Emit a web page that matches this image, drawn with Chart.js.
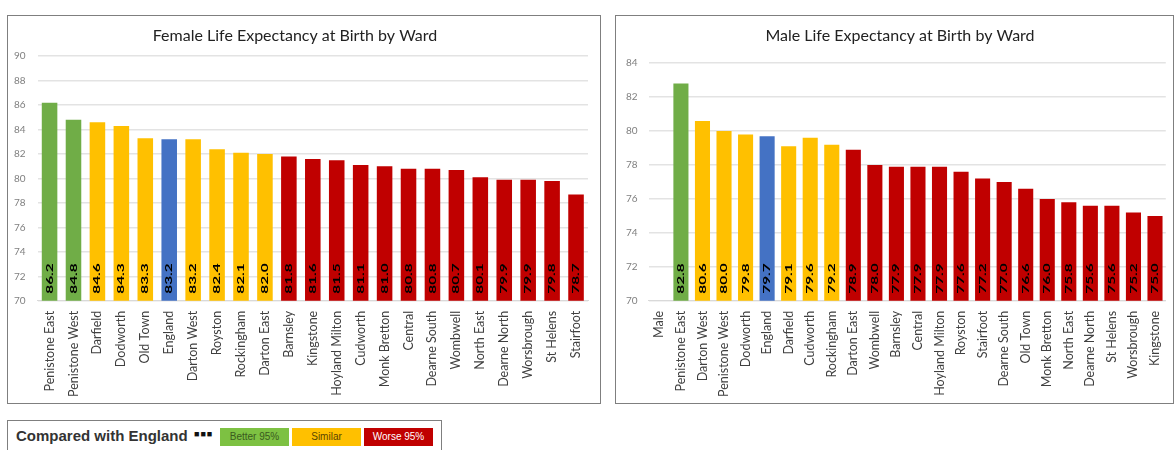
<!DOCTYPE html>
<html>
<head>
<meta charset="utf-8">
<script src="https://cdn.jsdelivr.net/npm/chart.js@4"></script>
<style>
  body { margin: 0; background: #fff; width: 1176px; height: 450px; overflow: hidden; position: relative; font-family: Lato, sans-serif; }
  .box { position: absolute; border: 1.5px solid #7f7f7f; background: #fff; box-sizing: border-box; }
  #femaleBox { left: 7px; top: 15px; width: 594px; height: 389px; }
  #maleBox { left: 615px; top: 15px; width: 559px; height: 389px; }
  #legendBox { left: 7px; top: 420px; width: 435px; height: 40px; }
  .lg-title { position: absolute; left: 8px; top: 6px; font: bold 15px "Liberation Sans", Arial, sans-serif; color: #333; }
  .lg-dots { position: absolute; left: 186px; top: 8px; font: bold 9px "Liberation Sans", Arial, sans-serif; color: #111; letter-spacing: 1px; }
  .lg-key { position: absolute; top: 7px; height: 18px; width: 69px; font: 10px "Liberation Sans", Arial, sans-serif; text-align: center; line-height: 18px; }
</style>
</head>
<body>
<div class="box" id="femaleBox"><canvas id="femaleChart" width="591" height="386"></canvas></div>
<div class="box" id="maleBox"><canvas id="maleChart" width="556" height="386"></canvas></div>
<div class="box" id="legendBox">
  <span class="lg-title">Compared with England</span>
  <span class="lg-dots">&#9632;&#9632;&#9632;</span>
  <span class="lg-key" style="left:212px;background:#7dc142;color:#3a5a1e;">Better 95%</span>
  <span class="lg-key" style="left:284px;background:#ffc000;color:#5a4500;">Similar</span>
  <span class="lg-key" style="left:356px;background:#c00000;color:#fff;">Worse 95%</span>
</div>

<script>
  // Female data
  const femaleWards = ['Penistone East', 'Penistone West', 'Darfield', 'Dodworth', 'Old Town', 'England',
    'Darton West', 'Royston', 'Rockingham', 'Darton East', 'Barnsley', 'Kingstone', 'Hoyland Milton',
    'Cudworth', 'Monk Bretton', 'Central', 'Dearne South', 'Wombwell', 'North East', 'Dearne North',
    'Worsbrough', 'St Helens', 'Stairfoot'];
  const femaleValues = [86.2, 84.8, 84.6, 84.3, 83.3, 83.2, 83.2, 82.4, 82.1, 82.0, 81.8, 81.6, 81.5,
    81.1, 81.0, 80.8, 80.8, 80.7, 80.1, 79.9, 79.9, 79.8, 78.7];
  // B = better, S = similar, E = England, W = worse
  const femaleGroups = ['B', 'B', 'S', 'S', 'S', 'E', 'S', 'S', 'S', 'S', 'W', 'W', 'W', 'W', 'W', 'W',
    'W', 'W', 'W', 'W', 'W', 'W', 'W'];

  // Male data ("Male" is an empty category)
  const maleWards = ['Male', 'Penistone East', 'Darton West', 'Penistone West', 'Dodworth', 'England',
    'Darfield', 'Cudworth', 'Rockingham', 'Darton East', 'Wombwell', 'Barnsley', 'Central',
    'Hoyland Milton', 'Royston', 'Stairfoot', 'Dearne South', 'Old Town', 'Monk Bretton', 'North East',
    'Dearne North', 'St Helens', 'Worsbrough', 'Kingstone'];
  const maleValues = [null, 82.8, 80.6, 80.0, 79.8, 79.7, 79.1, 79.6, 79.2, 78.9, 78.0, 77.9, 77.9,
    77.9, 77.6, 77.2, 77.0, 76.6, 76.0, 75.8, 75.6, 75.6, 75.2, 75.0];
  const maleGroups = ['', 'B', 'S', 'S', 'S', 'E', 'S', 'S', 'S', 'W', 'W', 'W', 'W', 'W', 'W', 'W',
    'W', 'W', 'W', 'W', 'W', 'W', 'W', 'W'];

  const femaleTicks = { min: 70, max: 90, step: 2 };
  const maleTicks = { min: 70, max: 84, step: 2 };

  const groupColours = { B: '#70ad47', S: '#ffc000', E: '#4472c4', W: '#c00000', '': '#ffffff' };

  // draws the value inside the bottom of each bar, rotated
  const barLabels = {
    id: 'barLabels',
    afterDraw(chart) {
      const ctx = chart.ctx;
      const vals = chart.data.datasets[0].data;
      const xs = chart.scales.x;
      const base = chart.scales.y.getPixelForValue(chart.scales.y.min);
      ctx.save();
      ctx.font = 'bold 14px Lato';
      ctx.fillStyle = '#000';
      ctx.textBaseline = 'middle';
      ctx.textAlign = 'left';
      for (let i = 0; i < vals.length; i++) {
        if (vals[i] == null) continue;
        ctx.save();
        ctx.translate(xs.getPixelForValue(i), base - 7);
        ctx.rotate(-Math.PI / 2);
        ctx.scale(1.1, 0.68);
        ctx.fillText(vals[i].toFixed(1), 0, 0);
        ctx.restore();
      }
      ctx.restore();
    }
  };

  function makeChart(canvasId, title, labels, values, groups, ticks, barPct, titleGap, pad, tickPad) {
    return new Chart(document.getElementById(canvasId), {
      type: 'bar',
      data: {
        labels: labels,
        datasets: [{
          data: values,
          backgroundColor: groups.map(g => groupColours[g]),
          borderWidth: 0,
          barPercentage: barPct,
          categoryPercentage: 1
        }]
      },
      options: {
        responsive: false,
        animation: false,
        layout: { padding: { left: pad[0], right: pad[1], top: 10, bottom: 3 } },
        plugins: {
          legend: { display: false },
          tooltip: { enabled: false },
          title: {
            display: true,
            text: title,
            color: '#222',
            font: { family: 'Lato', size: 16, weight: 'normal' },
            padding: { top: 0, bottom: titleGap }
          }
        },
        scales: {
          x: {
            grid: { display: false },
            border: { color: '#d9d9d9' },
            ticks: {
              color: '#404040',
              font: { family: 'Lato', size: 12.5 },
              minRotation: 90,
              maxRotation: 90,
              autoSkip: false,
              padding: 2
            }
          },
          y: {
            min: ticks.min,
            max: ticks.max,
            border: { display: false },
            grid: { color: '#e3e3e3', lineWidth: 1.5, drawTicks: false },
            ticks: {
              stepSize: ticks.step,
              color: '#7f7f7f',
              font: { family: 'Lato', size: 10 },
              padding: tickPad
            }
          }
        }
      },
      plugins: [barLabels]
    });
  }

  makeChart('femaleChart', 'Female Life Expectancy at Birth by Ward', femaleWards, femaleValues,
    femaleGroups, femaleTicks, 0.65, 11, [-6, 11], 12);
  makeChart('maleChart', 'Male Life Expectancy at Birth by Ward', maleWards, maleValues,
    maleGroups, maleTicks, 0.7, 18, [-1, -13], 11);
</script>
</body>
</html>
